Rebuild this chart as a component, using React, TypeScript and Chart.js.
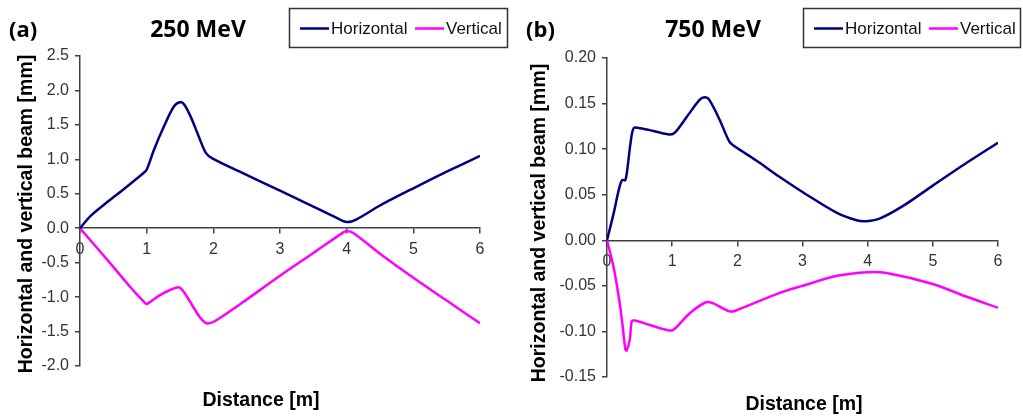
import { useEffect, useRef } from "react";
import { Chart, registerables } from "chart.js";

Chart.register(...registerables);

// ---- 250 MeV beam offsets ----
const distH250 = [0, 0.16, 0.41, 0.66, 0.94, 1.0, 1.11, 1.26, 1.41, 1.5, 1.56, 1.66, 1.79, 1.89, 1.99, 2.42, 3.0, 3.5, 3.85, 4.0, 4.15, 4.5, 5.0, 5.5, 6.0];
const horiz250 = [0, 0.18, 0.38, 0.57, 0.79, 0.85, 1.14, 1.48, 1.77, 1.83, 1.8, 1.62, 1.31, 1.09, 1.01, 0.81, 0.545, 0.315, 0.15, 0.09, 0.13, 0.33, 0.58, 0.82, 1.05];
const distV250 = [0, 0.41, 0.76, 0.96, 1.0, 1.2, 1.45, 1.52, 1.64, 1.79, 1.9, 2.02, 2.42, 3.0, 3.5, 3.95, 4.0, 4.1, 4.5, 5.0, 5.5, 6.0];
const vert250 = [0, -0.46, -0.86, -1.07, -1.1, -0.97, -0.86, -0.88, -1.05, -1.28, -1.38, -1.35, -1.09, -0.69, -0.36, -0.06, -0.04, -0.07, -0.37, -0.72, -1.05, -1.38];

// ---- 750 MeV beam offsets ----
const distH750 = [0, 0.1, 0.18, 0.23, 0.28, 0.31, 0.36, 0.41, 0.51, 0.71, 0.96, 1.04, 1.22, 1.42, 1.5, 1.57, 1.73, 1.88, 1.98, 2.28, 2.64, 3.0, 3.53, 3.83, 3.98, 4.19, 4.55, 5.0, 5.52, 6.0];
const horiz750 = [0, 0.029, 0.055, 0.066, 0.066, 0.077, 0.106, 0.123, 0.123, 0.12, 0.116, 0.118, 0.135, 0.154, 0.157, 0.154, 0.132, 0.108, 0.102, 0.088, 0.07, 0.053, 0.03, 0.022, 0.021, 0.024, 0.038, 0.06, 0.085, 0.107];
const distV750 = [0, 0.1, 0.18, 0.23, 0.28, 0.3, 0.35, 0.38, 0.43, 0.66, 0.96, 1.04, 1.27, 1.52, 1.62, 1.88, 1.98, 2.64, 3.0, 3.53, 4.0, 4.29, 5.0, 5.52, 6.0];
const vert750 = [0, -0.029, -0.062, -0.088, -0.119, -0.121, -0.109, -0.089, -0.088, -0.093, -0.099, -0.097, -0.08, -0.068, -0.069, -0.078, -0.077, -0.058, -0.05, -0.039, -0.035, -0.036, -0.048, -0.062, -0.074];

const seriesNames = ["Horizontal", "Vertical"];
const seriesColors = ["#000080", "#ff00ff"];
const panelTags = ["(a)", "(b)"];
const panelEnergies = ["250 MeV", "750 MeV"];
const xTitle = "Distance [m]";
const yTitle = "Horizontal and vertical beam [mm]";

const TICK_FONT = { family: "'Liberation Sans', Arial, sans-serif", size: 16 };
const AXIS_COLOR = "#404040";

type PanelLayout = {
  width: number;
  plotLeft: number;
  plotRight: number;
  plotTop: number;
  plotBottom: number;
  yMin: number;
  yMax: number;
  yStep: number;
  yDigits: number;
  tagX: number;
  energyX: number;
  boxX: number;
  boxW: number;
  yTitleX: number;
  yTitleY: number;
  xTitleX: number;
  xTitleY: number;
};

const toPoints = (xs: number[], ys: number[]) => xs.map((x, i) => ({ x, y: ys[i] }));

function decorations(tag: string, energy: string, L: PanelLayout) {
  return {
    id: "panelDecorations",
    afterDraw(chart: Chart) {
      const ctx = chart.ctx;
      ctx.save();
      ctx.fillStyle = "#000";
      ctx.textBaseline = "middle";

      // panel tag and beam energy
      ctx.font = "700 22px 'Open Sans', sans-serif";
      ctx.textAlign = "left";
      ctx.fillText(tag, L.tagX, 31);
      ctx.font = "700 23px 'Open Sans', sans-serif";
      ctx.textAlign = "center";
      ctx.fillText(energy, L.energyX, 30);

      // legend box
      ctx.strokeStyle = "#333";
      ctx.lineWidth = 1.5;
      ctx.strokeRect(L.boxX + 0.5, 8.5, L.boxW, 39);
      ctx.font = "17px 'Liberation Sans', Arial, sans-serif";
      ctx.textAlign = "left";
      chart.data.datasets.forEach((ds: any, i: number) => {
        const x0 = L.boxX + 11 + i * 115;
        ctx.strokeStyle = ds.borderColor;
        ctx.lineWidth = 2.5;
        ctx.beginPath();
        ctx.moveTo(x0, 28.5);
        ctx.lineTo(x0 + 29, 28.5);
        ctx.stroke();
        ctx.fillStyle = "#111";
        ctx.fillText(ds.label, x0 + 31, 29);
      });

      // axis titles
      ctx.fillStyle = "#000";
      ctx.font = "700 19.5px 'Liberation Sans', Arial, sans-serif";
      ctx.textAlign = "center";
      ctx.fillText(xTitle, L.xTitleX, L.xTitleY);
      ctx.translate(L.yTitleX, L.yTitleY);
      ctx.rotate(-Math.PI / 2);
      ctx.fillText(yTitle, 0, 0);
      ctx.restore();
    },
  };
}

function makeConfig(
  tag: string,
  energy: string,
  hx: number[],
  hy: number[],
  vx: number[],
  vy: number[],
  L: PanelLayout
): any {
  const fmt = (v: number) => (Math.abs(v) < 1e-9 ? 0 : v).toFixed(L.yDigits);
  const line = (label: string, color: string, data: { x: number; y: number }[]) => ({
    label,
    data,
    borderColor: color,
    backgroundColor: color,
    borderWidth: 2.5,
    pointRadius: 0,
    fill: false,
    tension: 0.3,
  });
  return {
    type: "line",
    data: {
      datasets: [
        line(seriesNames[0], seriesColors[0], toPoints(hx, hy)),
        line(seriesNames[1], seriesColors[1], toPoints(vx, vy)),
      ],
    },
    options: {
      responsive: false,
      animation: false,
      devicePixelRatio: 1,
      layout: {
        autoPadding: false,
        padding: {
          left: 0,
          top: L.plotTop,
          right: L.width - L.plotRight,
          bottom: 420 - L.plotBottom,
        },
      },
      plugins: {
        legend: { display: false },
        title: { display: false },
        tooltip: { enabled: false },
      },
      scales: {
        x: {
          type: "linear",
          min: 0,
          max: 6,
          position: { y: 0 },
          ticks: {
            stepSize: 1,
            padding: 7,
            font: TICK_FONT,
            color: "#333",
            maxRotation: 0,
            callback: (v: number) => String(v),
          },
          grid: { drawOnChartArea: false, tickLength: 5, color: AXIS_COLOR, lineWidth: 1.5 },
          border: { display: true, color: AXIS_COLOR, width: 1.5 },
        },
        y: {
          type: "linear",
          position: "left",
          min: L.yMin,
          max: L.yMax,
          ticks: {
            stepSize: L.yStep,
            padding: 6,
            font: TICK_FONT,
            color: "#333",
            callback: (v: number) => fmt(v),
          },
          grid: { drawOnChartArea: false, tickLength: 5, color: AXIS_COLOR, lineWidth: 1.5 },
          border: { display: true, color: AXIS_COLOR, width: 1.5 },
          afterFit: (scale: any) => {
            scale.width = L.plotLeft;
          },
        },
      },
    },
    plugins: [decorations(tag, energy, L)],
  };
}

const leftLayout: PanelLayout = {
  width: 515,
  plotLeft: 80,
  plotRight: 480,
  plotTop: 56,
  plotBottom: 366,
  yMin: -2,
  yMax: 2.5,
  yStep: 0.5,
  yDigits: 1,
  tagX: 9,
  energyX: 198,
  boxX: 289,
  boxW: 218,
  yTitleX: 27,
  yTitleY: 214,
  xTitleX: 261,
  xTitleY: 401,
};

const rightLayout: PanelLayout = {
  width: 508,
  plotLeft: 92,
  plotRight: 483,
  plotTop: 58,
  plotBottom: 377,
  yMin: -0.15,
  yMax: 0.2,
  yStep: 0.05,
  yDigits: 2,
  tagX: 11,
  energyX: 198,
  boxX: 288,
  boxW: 217,
  yTitleX: 25,
  yTitleY: 223,
  xTitleX: 289,
  xTitleY: 405,
};

function Panel({ config, left, width }: { config: any; left: number; width: number }) {
  const ref = useRef<HTMLCanvasElement>(null);
  useEffect(() => {
    const chart = new Chart(ref.current as HTMLCanvasElement, config);
    return () => chart.destroy();
  }, [config]);
  return (
    <canvas
      ref={ref}
      width={width}
      height={420}
      style={{ position: "absolute", left, top: 0, width, height: 420 }}
    />
  );
}

const leftConfig = makeConfig(panelTags[0], panelEnergies[0], distH250, horiz250, distV250, vert250, leftLayout);
const rightConfig = makeConfig(panelTags[1], panelEnergies[1], distH750, horiz750, distV750, vert750, rightLayout);

export default function App() {
  return (
    <div style={{ position: "absolute", left: 0, top: 0, width: 1023, height: 420, background: "#fff" }}>
      <Panel config={leftConfig} left={0} width={leftLayout.width} />
      <Panel config={rightConfig} left={515} width={rightLayout.width} />
    </div>
  );
}
